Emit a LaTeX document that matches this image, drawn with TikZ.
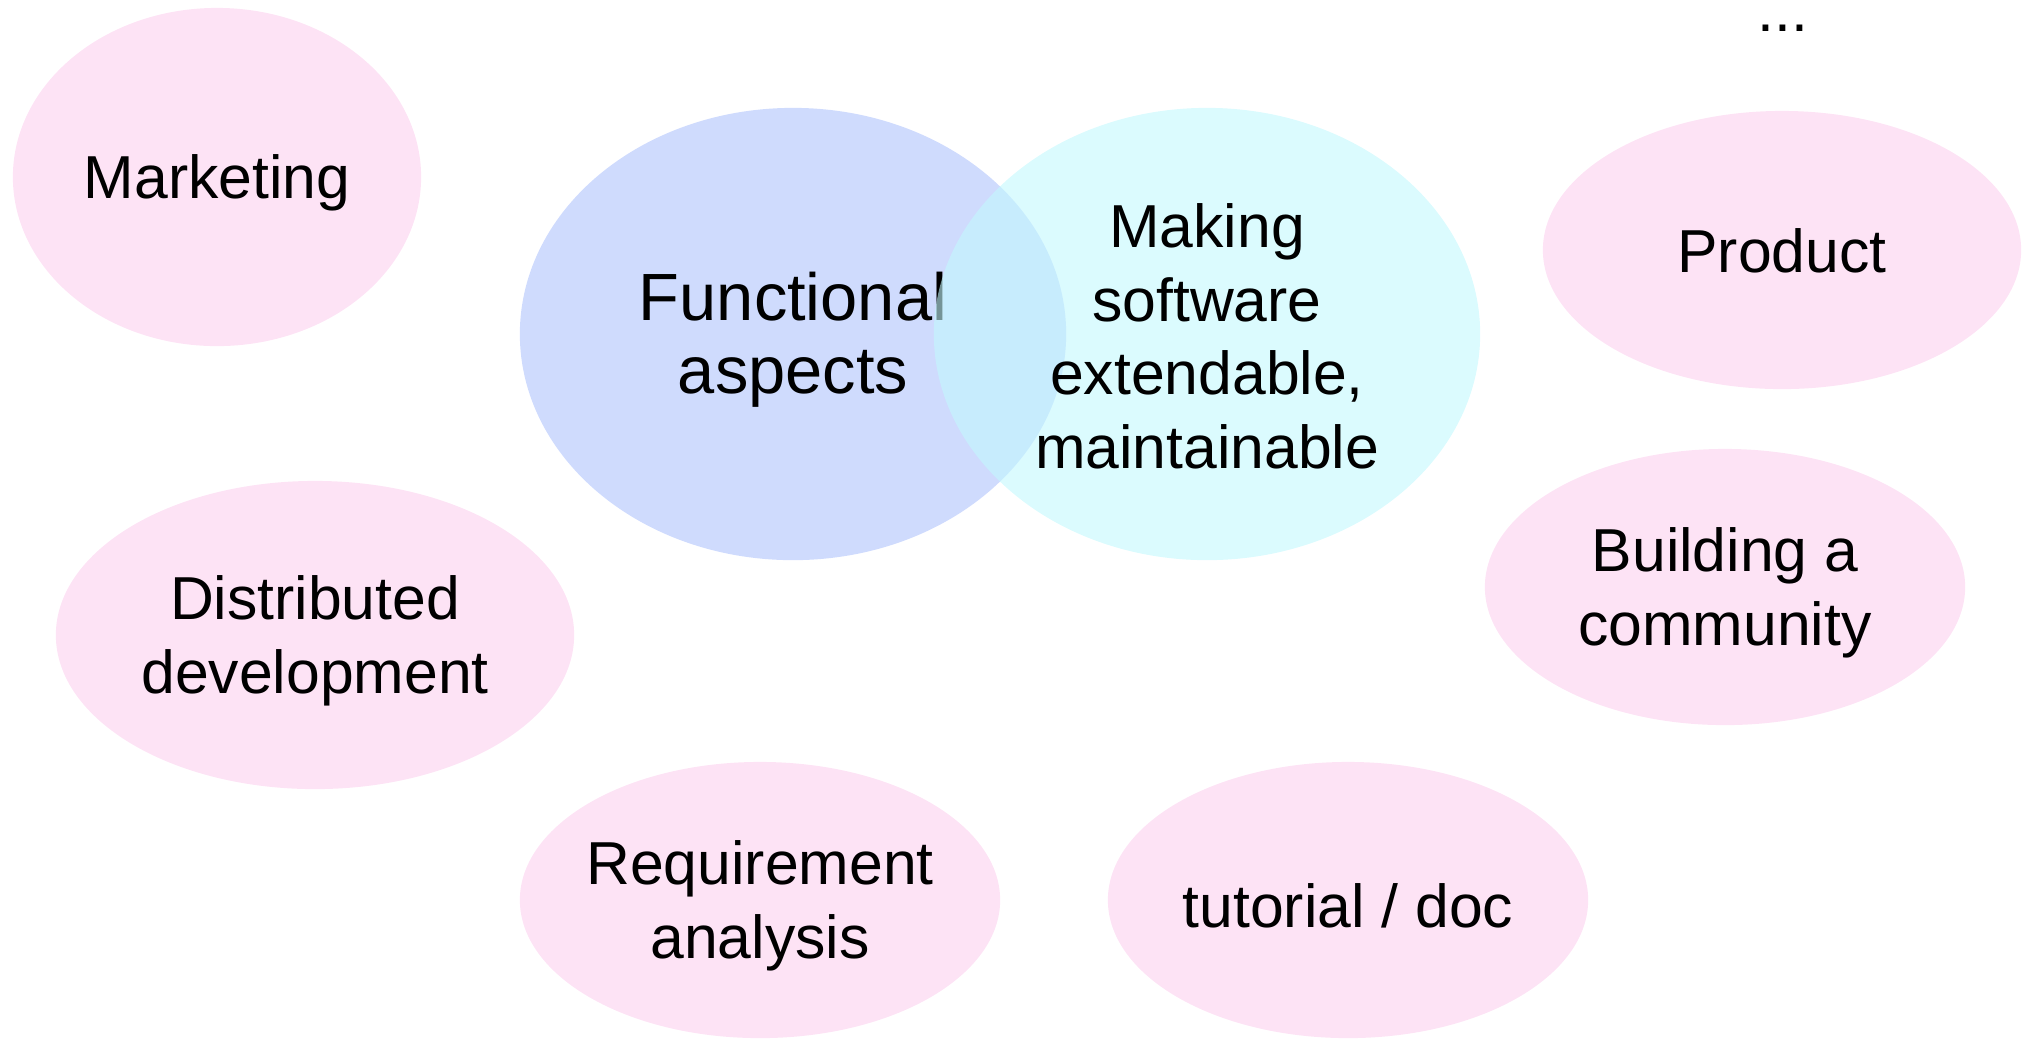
\documentclass[tikz,border=0pt]{standalone}
\usepackage{fontspec}
\setmainfont{Liberation Sans}
\usepackage{xcolor}
\usetikzlibrary{shapes}

\definecolor{bubblepink}{RGB}{253,227,245}
\definecolor{functionblue}{RGB}{207,219,253}
\definecolor{makingcyan}{RGB}{195,248,253}

\begin{document}
\begin{tikzpicture}[x=0.01cm, y=-0.01cm]
            \tikzstyle{bubble} = [ellipse, fill=bubblepink, align=center, inner sep=-6pt, text height=15.6pt, font=\fontsize{17.25}{20.9}\selectfont]
            \tikzstyle{twolines} = [text height=36.8pt]
            \tikzstyle{big} = [bubble, minimum width=5.46cm, minimum height=4.52cm]
            \tikzstyle{small} = [bubble, minimum width=4.8cm, minimum height=2.76cm]

            \useasboundingbox (0,0) rectangle (2022,1038);

            \node [bubble, minimum width=4.08cm, minimum height=3.38cm] (marketing) at (217,177) {Marketing};
            \node [bubble, twolines, minimum width=5.18cm, minimum height=3.08cm] (distributed) at (315,635) {Distributed\\development};
            \node [small, twolines] (requirement) at (760,900) {Requirement\\analysis};
            \node [small] (tutorial) at (1348,900) {tutorial / doc};
            \node [small, minimum width=4.78cm, minimum height=2.78cm, text height=13pt] (product) at (1782,250) {Product};
            \node [small, twolines] (community) at (1725,587) {Building a\\community};

            % the two main aspects overlap
            \node [big, fill=functionblue, text height=37.9pt, font=\fontsize{19}{20.9}\selectfont] (functional) at (793,334) {Functional\\aspects};
            \node [big, fill=makingcyan, fill opacity=0.6, text opacity=1, text height=76.5pt] (making) at (1207,334) {Making\\software\\extendable,\\maintainable};

            \node [anchor=base, inner sep=0pt, text height=3pt, font=\fontsize{17.25}{20.9}\selectfont] (more) at (1783,31) {...};
        \end{tikzpicture}
\end{document}
